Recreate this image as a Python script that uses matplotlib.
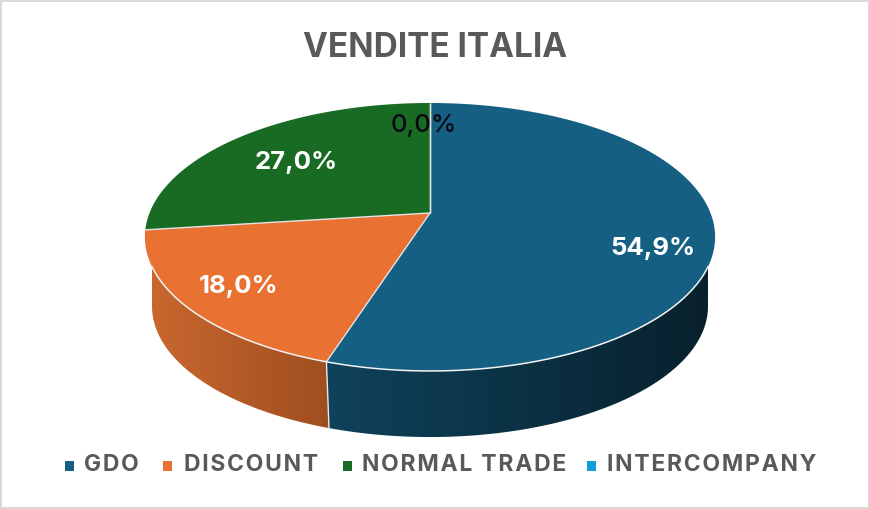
"""Vendite Italia: tilted pie with a thick wall"""
import numpy as np

import matplotlib
matplotlib.use("Agg")
import matplotlib.pyplot as plt
from matplotlib.colors import LinearSegmentedColormap
from matplotlib.patches import Polygon, Rectangle

title = "VENDITE ITALIA"
categories = ["GDO", "DISCOUNT", "NORMAL TRADE", "INTERCOMPANY"]
values = [54.9, 18.0, 27.0, 0.0]
labels = ["54,9%", "18,0%", "27,0%", "0,0%"]

colors = ["#156082", "#E97132", "#196B24", "#0F9ED5"]
wall_colors = [("#0F425B", "#08212D"), ("#C9672E", "#9F4E20"), ("#124D1A", "#0C3311"), ("#0B6F96", "#084F6B")]
label_colors = ["white", "white", "white", "#0A0A14"]
label_weights = ["bold", "bold", "bold", "medium"]
label_xy = [(653, 249), (239, 287), (296, 162), (424, 125)]
legend_box_x = [65, 163, 343, 587]
legend_text_x = [84, 184, 362, 607]

# pie geometry in pixels, the plane has some perspective
cx, cy = 430, 213
rad_x, rad_y, persp = 280.5, 129.7, 0.179
drop, shrink = 70, 0.975
front_limit = -0.38  # top edge of the wall shows where cos(theta) is below this
low_limit = -0.18  # same for the lower edge

plt.rcParams["font.family"] = ["Inter", "DejaVu Sans"]


def rim(theta, scale=1.0, dy=0.0):
    u = np.sin(theta)
    v = np.cos(theta)
    d = 1 + persp * v
    return np.column_stack((cx + scale * rad_x * u / d, cy + dy - scale * rad_y * v / d))


def spaced(s):
    return "\u200a".join(s)


fig = plt.figure(figsize=(8.7, 5.09), dpi=100, facecolor="#D9D9D9")
ax = fig.add_axes([0, 0, 1, 1])
ax.axis("off")

ax.add_patch(Rectangle((2, 2), 866, 504.5, fc="white", ec="none", zorder=0))

edges = np.radians(np.cumsum([0] + values) / sum(values) * 360)

# walls first, then the top faces
for i in range(len(values)):
    th = np.linspace(edges[i], edges[i + 1], 400)
    th_top = th[np.cos(th) < front_limit]
    th_low = th[np.cos(th) < low_limit]
    if len(th_top) < 2:
        continue
    pts = np.vstack((rim(th_top), rim(th_low[::-1], shrink, drop)))
    poly = Polygon(pts, closed=True, fc="none", ec="none", zorder=1)
    ax.add_patch(poly)
    cmap = LinearSegmentedColormap.from_list("wall", wall_colors[i])
    grad = np.linspace(0, 1, 256).reshape(1, -1)
    im = ax.imshow(grad, cmap=cmap, aspect="auto", zorder=1, extent=(pts[:, 0].min(), pts[:, 0].max(), pts[:, 1].max(), pts[:, 1].min()))
    im.set_clip_path(poly)

# line between blue and orange wall
for e in edges[1:2]:
    top = rim(np.array([e]))[0]
    low = rim(np.array([e]), shrink, drop)[0]
    ax.plot([top[0], low[0]], [top[1], low[1]], c="#E8E8E8", lw=1, zorder=2)

for i in range(len(values)):
    th = np.linspace(edges[i], edges[i + 1], 200)
    pts = np.vstack(([cx, cy], rim(th)))
    ax.add_patch(Polygon(pts, closed=True, fc=colors[i], ec="none", zorder=3))

# slice edges and the front rim
for e in edges[:-1]:
    p = rim(np.array([e]))[0]
    ax.plot([cx, p[0]], [cy, p[1]], c="#E4E4E4", lw=1, zorder=4, solid_capstyle="butt")
th = np.linspace(0, 2 * np.pi, 720)
front = np.cos(th) < front_limit
ring = rim(th)
ax.plot(ring[front, 0], ring[front, 1], c="#F2F2F2", lw=1.1, zorder=4)

for i in range(len(values)):
    ax.text(label_xy[i][0], label_xy[i][1], labels[i], color=label_colors[i], fontsize=18.5, fontweight=label_weights[i], ha="center", va="center", zorder=5)

ax.text(435, 48, title, color="#595959", fontsize=24, fontweight="bold", ha="center", va="center")

for i in range(len(categories)):
    ax.add_patch(Rectangle((legend_box_x[i], 461), 9, 9.5, fc=colors[i], ec="none"))
    ax.text(legend_text_x[i], 465, spaced(categories[i]), color="#595959", fontsize=16.5, fontweight="bold", ha="left", va="center")

ax.set_xlim(0, 870)
ax.set_ylim(509, 0)

fig.savefig("out.png", dpi=100, facecolor=fig.get_facecolor())
